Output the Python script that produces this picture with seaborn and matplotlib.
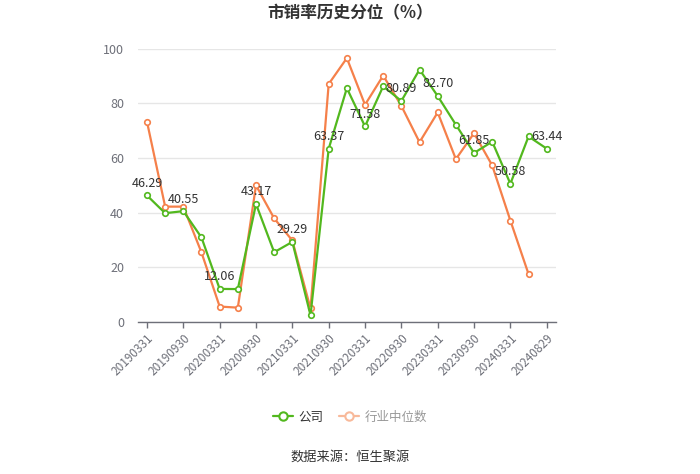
import pandas as pd
import matplotlib
matplotlib.use("Agg")
import matplotlib.pyplot as plt
import seaborn as sns
from matplotlib.lines import Line2D

# ==========================
# Data
# ==========================
dates = [
    "20190331", "20190630", "20190930", "20191231",
    "20200331", "20200630", "20200930", "20201231",
    "20210331", "20210630", "20210930", "20211231",
    "20220331", "20220630", "20220930", "20221231",
    "20230331", "20230630", "20230930", "20231231",
    "20240331", "20240630", "20240829",
]
company = [
    46.29, 39.8, 40.55, 30.9, 12.06, 12.0, 43.17, 25.5,
    29.29, 2.4, 63.37, 85.6, 71.58, 86.3, 80.89, 92.4,
    82.70, 72.2, 61.85, 66.0, 50.58, 67.9, 63.44,
]
industry = [
    73.3, 42.2, 42.2, 25.4, 5.6, 5.2, 50.0, 37.9,
    29.8, 4.9, 87.1, 96.6, 79.5, 90.2, 79.1, 65.8,
    76.7, 59.6, 69.1, 57.3, 37.1, 17.5, None,
]
series_names = ["公司", "行业中位数"]

GREEN = "#52b81e"
ORANGE = "#f5804a"
ORANGE_LIGHT = "#f8b99a"

df = pd.DataFrame({"idx": range(len(dates)), "date": dates,
                   series_names[0]: company, series_names[1]: industry})
long_df = df.melt(id_vars=["idx", "date"], var_name="series", value_name="value").dropna()

# ==========================
# Plot
# ==========================
sns.set_theme(style="white")
plt.rcParams["font.family"] = ["Noto Sans CJK SC", "DejaVu Sans"]

fig = plt.figure(figsize=(7.0, 4.74), dpi=100)
ax = fig.add_axes([0.197, 0.321, 0.597, 0.576])

# industry first so the company line sits on top
sns.lineplot(
    data=long_df, x="idx", y="value", hue="series",
    hue_order=[series_names[1], series_names[0]],
    palette={series_names[0]: GREEN, series_names[1]: ORANGE},
    marker="o", markersize=4, markerfacecolor="white",
    markeredgewidth=1.2, linewidth=1.6, ax=ax, legend=False,
)
for line in ax.lines:
    line.set_markeredgecolor(line.get_color())

# value labels on the company series, every other point
for i in range(0, len(dates), 2):
    ax.annotate(f"{company[i]:.2f}", (i, company[i]), xytext=(0, 4),
                textcoords="offset points", ha="center", va="bottom",
                fontsize=9, color="#333333")

ax.set_xlim(-0.5, len(dates) - 0.5)
ax.set_ylim(0, 100)
ax.set_yticks(range(0, 101, 20))
ax.set_xticks(range(0, len(dates), 2))
ax.set_xticklabels(dates[::2], rotation=45, ha="right", rotation_mode="anchor",
                   fontsize=8.5, color="#6e7079")
ax.tick_params(axis="y", labelsize=9, labelcolor="#6e7079", length=0, pad=10)
ax.tick_params(axis="x", length=4, width=1, color="#6e7079", pad=3, bottom=True)
ax.yaxis.grid(True, color="#e6e6e6", linewidth=1)
ax.set_xlabel("")
ax.set_ylabel("")
for side in ["top", "right", "left"]:
    ax.spines[side].set_visible(False)
ax.spines["bottom"].set_color("#6e7079")
ax.spines["bottom"].set_linewidth(1)

fig.text(0.5, 0.972, "市销率历史分位（%）", ha="center", va="center",
         fontsize=12, fontweight="bold", color="#333333")

handles = [
    Line2D([0], [0], color=GREEN, marker="o", markersize=6, markerfacecolor="white",
           markeredgewidth=1.5, linewidth=1.6),
    Line2D([0], [0], color=ORANGE_LIGHT, marker="o", markersize=6, markerfacecolor="white",
           markeredgewidth=1.5, linewidth=1.6),
]
leg = fig.legend(handles, series_names, loc="center", bbox_to_anchor=(0.5, 0.12),
                 ncol=2, frameon=False, fontsize=9, handlelength=1.6,
                 columnspacing=1.2, handletextpad=0.5)
leg.get_texts()[0].set_color("#333333")
leg.get_texts()[1].set_color("#999999")

fig.text(0.5, 0.035, "数据来源：恒生聚源", ha="center", va="center",
         fontsize=9.5, color="#333333")

plt.savefig("out.png", dpi=100)
plt.close()
